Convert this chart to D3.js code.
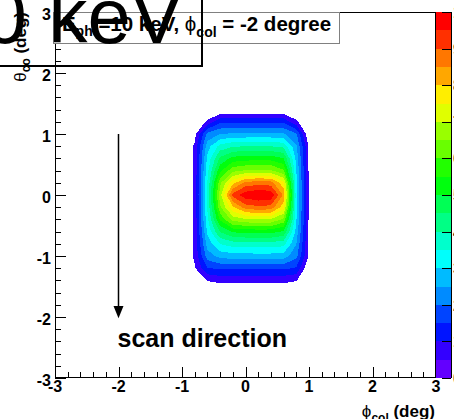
<!DOCTYPE html>
<html>
<head>
<meta charset="utf-8">
<script src="https://cdn.jsdelivr.net/npm/d3@7"></script>
<style>
  html, body { margin: 0; padding: 0; background: #fff; }
  svg { display: block; }
  text { font-family: "Liberation Sans", Arial, Helvetica, sans-serif; white-space: pre; }
</style>
</head>
<body>
<svg id="chart" width="454" height="419"></svg>
<script>
// Bin centres of the 2D histogram (degrees)
const phiBins = [-1.2, -1.0, -0.8, -0.6, -0.4, -0.2, 0.0, 0.2, 0.4, 0.6, 0.8, 1.0, 1.2, 1.4];
const thetaBins = [1.6, 1.4, 1.2, 1.0, 0.8, 0.6, 0.4, 0.2, 0.0, -0.2, -0.4, -0.6, -0.8, -1.0, -1.2, -1.4, -1.6];

// Relative intensity, one row per theta bin (top row = largest theta)
const intensity = [
  [0, 0, 0,   0,    0,    0,    0,    0,    0,    0,    0,    0, 0, 0],
  [0, 0, 0,   0,    0,    0,    0,    0,    0,    0,    0,    0, 0, 0],
  [0, 0, 0,   6,    13.8, 14,   14,   14,   14,   13.9, 6,    0, 0, 0],
  [0, 0, 3,   21.6, 25,   25.8, 26,   26,   26,   25.6, 20.6, 0, 0, 0],
  [0, 0, 5.9, 27.8, 36.7, 39.4, 39.9, 40,   39.9, 38.7, 25.8, 4, 0, 0],
  [0, 0, 6,   31.2, 46,   51.7, 52.7, 53,   52.9, 50.1, 28.5, 4, 0, 0],
  [0, 0, 6,   33.3, 53.8, 63.5, 65.4, 66,   65.7, 60.7, 30.1, 4, 0, 0],
  [0, 0, 6,   35.3, 63.8, 78.5, 86.6, 88,   87.3, 76.5, 31.5, 4, 0, 0],
  [0, 0, 6,   36,   68,   92,   98,   100,  99,   84,   32,   4, 0, 0],
  [0, 0, 6,   35.4, 64.2, 79,   87.6, 89,   88.3, 77.2, 31.5, 4, 0, 0],
  [0, 0, 6,   33.8, 55.9, 67.1, 69.3, 70,   69.7, 63.8, 30.4, 4, 0, 0],
  [0, 0, 6,   31,   45.4, 50.8, 51.7, 52,   51.9, 49.3, 28.3, 4, 0, 0],
  [0, 0, 5.9, 27.1, 35.2, 37.5, 37.9, 38,   37.9, 36.9, 25.2, 4, 0, 0],
  [0, 0, 5.9, 22.7, 26.8, 27.8, 27.9, 28,   28,   27.6, 21.6, 4, 0, 0],
  [0, 0, 4.5, 14.8, 15.8, 16,   16,   16,   16,   15.9, 14.5, 0, 0, 0],
  [0, 0, 0,   5.3,  6.5,  6.5,  6.5,  6.5,  6.5,  6.5,  5.3,  0, 0, 0],
  [0, 0, 0,   0,    0,    0,    0,    0,    0,    0,    0,    0, 0, 0]
];

const xTickLabels = [-3, -2, -1, 0, 1, 2, 3];
const yTickLabels = [-3, -2, -1, 0, 1, 2, 3];
const zTickLabels = [0, 10, 20, 30, 40, 50, 60, 70, 80, 90, 100];
const zRange = [0, 100];
const nLevels = 20;

const svg = d3.select("#chart");
const W = 454, H = 419;
svg.append("rect").attr("width", W).attr("height", H).attr("fill", "#fff");

const frame = { left: 55, right: 436, top: 12, bottom: 378 };
const x = d3.scaleLinear().domain([-3, 3]).range([frame.left, frame.right]);
const y = d3.scaleLinear().domain([-3, 3]).range([frame.bottom, frame.top]);
const z = d3.scaleLinear().domain(zRange).range([frame.bottom, frame.top]);

// Violet -> red pretty palette (HLS, fixed lightness and saturation)
function levelColor(i) {
  const k = Math.floor((i + 0.99) * 50 / nLevels);
  const hue = 280 - (k + 1) * (280 / 50);
  return d3.hsl(hue, 1, 0.5).formatHex();
}

// ---- filled contours ----
svg.append("clipPath").attr("id", "frameClip")
  .append("rect").attr("x", frame.left).attr("y", frame.top)
  .attr("width", frame.right - frame.left).attr("height", frame.bottom - frame.top);

const nx = phiBins.length, ny = thetaBins.length;
const dz = (zRange[1] - zRange[0]) / nLevels;
const thresholds = d3.range(1, nLevels).map(i => zRange[0] + i * dz);
const contours = d3.contours().size([nx, ny]).thresholds(thresholds)(intensity.flat());

const colToPhi = d3.scaleLinear().domain([0, nx - 1]).range([phiBins[0], phiBins[nx - 1]]);
const rowToTheta = d3.scaleLinear().domain([0, ny - 1]).range([thetaBins[0], thetaBins[ny - 1]]);
const gridProjection = d3.geoTransform({
  point(u, v) { this.stream.point(x(colToPhi(u - 0.5)), y(rowToTheta(v - 0.5))); }
});
const contourPath = d3.geoPath(gridProjection);

svg.append("g").attr("clip-path", "url(#frameClip)")
  .selectAll("path").data(contours).join("path")
  .attr("d", contourPath)
  .attr("fill", d => levelColor(Math.round((d.value - zRange[0]) / dz)))
  .attr("shape-rendering", "crispEdges");

// ---- axes (ticks pointing into the frame) ----
const minorX = d3.range(-3, 3.0001, 0.2).map(v => +v.toFixed(2));
const axisG = svg.append("g").attr("stroke", "#000").attr("fill", "none").attr("shape-rendering", "crispEdges");

// frame outline
axisG.append("rect").attr("x", frame.left + 0.5).attr("y", frame.top + 0.5)
  .attr("width", frame.right - frame.left - 1).attr("height", frame.bottom - frame.top - 1)
  .attr("stroke", "#000").attr("stroke-width", 1);

minorX.forEach(v => {
  const major = xTickLabels.includes(Math.round(v)) && Math.abs(v - Math.round(v)) < 1e-6;
  const len = major ? 11 : 6;
  axisG.append("line").attr("x1", Math.round(x(v)) + 0.5).attr("x2", Math.round(x(v)) + 0.5)
    .attr("y1", frame.bottom).attr("y2", frame.bottom - len);
  axisG.append("line").attr("y1", Math.round(y(v)) + 0.5).attr("y2", Math.round(y(v)) + 0.5)
    .attr("x1", frame.left).attr("x2", frame.left + len);
});

const labelG = svg.append("g").style("font-size", "16px").style("font-weight", "bold").attr("fill", "#000");
xTickLabels.forEach(v => {
  labelG.append("text").attr("x", x(v)).attr("y", 392).attr("text-anchor", "middle").text(v);
});
yTickLabels.forEach(v => {
  labelG.append("text").attr("x", 51).attr("y", y(v) + 7.5).attr("text-anchor", "end").text(v);
});

// ---- palette ----
const pal = svg.append("g");
d3.range(nLevels).forEach(i => {
  const z0 = zRange[0] + i * dz, z1 = z0 + dz;
  pal.append("rect").attr("x", 436).attr("width", 15)
    .attr("y", z(z1)).attr("height", z(z0) - z(z1))
    .attr("fill", levelColor(i)).attr("shape-rendering", "crispEdges");
});
pal.append("line").attr("x1", 451.5).attr("x2", 451.5).attr("y1", frame.top).attr("y2", frame.bottom)
  .attr("stroke", "#000");
zTickLabels.forEach(v => {
  const yy = Math.round(z(v)) + 0.5;
  pal.append("line").attr("x1", 442).attr("x2", 451).attr("y1", yy).attr("y2", yy)
    .attr("stroke", "#000").attr("shape-rendering", "crispEdges");
  pal.append("text").attr("x", 453).attr("y", z(v) + 6).style("font-size", "16px")
    .style("font-weight", "bold").text(v);
});

// ---- title box ----
svg.append("rect").attr("x", 53.5).attr("y", 12.5).attr("width", 286).attr("height", 31)
  .attr("fill", "#fff").attr("stroke", "#808080");
const title = svg.append("text").attr("x", 196.5).attr("y", 30.5).attr("text-anchor", "middle")
  .style("font-size", "20.5px").style("font-weight", "bold");
title.append("tspan").text("E");
title.append("tspan").attr("dy", 5).style("font-size", "14px").text("ph");
title.append("tspan").attr("dy", -5).text(" =10 keV, ");
title.append("tspan").style("font-weight", "normal").text("ϕ");
title.append("tspan").attr("dy", 6).style("font-size", "14px").text("col");
title.append("tspan").attr("dy", -6).text(" = -2 degree");

// ---- axis titles ----
const xTitle = svg.append("text").attr("x", 435).attr("y", 417).attr("text-anchor", "end")
  .style("font-size", "17px").style("font-weight", "bold");
xTitle.append("tspan").style("font-weight", "normal").text("ϕ");
xTitle.append("tspan").attr("dy", 5).style("font-size", "12px").text("col");
xTitle.append("tspan").attr("dy", -5).text(" (deg)");

const yTitle = svg.append("text").attr("transform", "translate(25.5,12) rotate(-90)")
  .attr("text-anchor", "end").style("font-size", "17px").style("font-weight", "bold");
yTitle.append("tspan").style("font-weight", "normal").text("θ");
yTitle.append("tspan").attr("dy", 4).style("font-size", "12px").text("co");
yTitle.append("tspan").attr("dy", -4).text(" (deg)");

// ---- scan direction arrow ----
const arrowX = x(-2);
svg.append("line").attr("x1", arrowX).attr("x2", arrowX).attr("y1", y(1.0)).attr("y2", y(-1.85))
  .attr("stroke", "#000").attr("stroke-width", 1.5);
svg.append("path")
  .attr("d", `M${arrowX - 5},${y(-1.82)} L${arrowX + 5},${y(-1.82)} L${arrowX},${y(-2.02)} Z`)
  .attr("fill", "#000");
svg.append("text").attr("x", arrowX - 1).attr("y", 347)
  .style("font-size", "25px").style("font-weight", "bold").text("scan direction");

// ---- large energy label in its framed pave ----
svg.append("text").attr("x", -60).attr("y", 43).style("font-size", "78px").attr("fill", "#000")
  .text("10 keV");
svg.append("rect").attr("x", -20).attr("y", -20).attr("width", 222).attr("height", 86)
  .attr("fill", "none").attr("stroke", "#000").attr("stroke-width", 2);
</script>
</body>
</html>
